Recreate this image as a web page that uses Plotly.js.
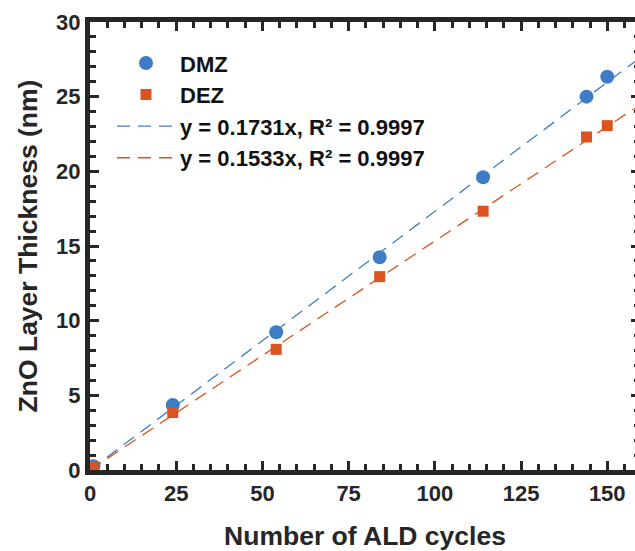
<!DOCTYPE html>
<html>
<head>
<meta charset="utf-8">
<script src="https://cdn.plot.ly/plotly-3.0.1.min.js"></script>
<style>
html,body{margin:0;padding:0;overflow:hidden;background:#fff;}
#chart{width:642px;height:551px;}
</style>
</head>
<body>
<div id="chart"></div>
<script>
var cycles = [1, 24, 54, 84, 114, 144, 150];
var dmz = [0.25, 4.35, 9.22, 14.25, 19.6, 25.0, 26.33];
var dez = [0.2, 3.85, 8.08, 12.95, 17.33, 22.3, 23.06];
var slopeDMZ = 0.1731, slopeDEZ = 0.1533;
var fitX = [0, 159.5];
var names = ['DMZ', 'DEZ', 'y = 0.1731x, R\u00b2 = 0.9997', 'y = 0.1533x, R\u00b2 = 0.9997'];
var blue = '#3E7DC6', orange = '#D9541F', ink = '#262626';

var traces = [
  {x: cycles, y: dmz, name: names[0], mode: 'markers', type: 'scatter',
   marker: {symbol: 'circle', size: 14, color: blue}},
  {x: cycles, y: dez, name: names[1], mode: 'markers', type: 'scatter',
   marker: {symbol: 'square', size: 11, color: orange}},
  {x: fitX, y: fitX.map(function(v){return v*slopeDMZ;}), name: names[2], mode: 'lines', type: 'scatter',
   line: {color: blue, width: 1.3, dash: '13px,8px'}},
  {x: fitX, y: fitX.map(function(v){return v*slopeDEZ;}), name: names[3], mode: 'lines', type: 'scatter',
   line: {color: orange, width: 1.3, dash: '13px,8px'}}
];

var fontFam = 'Arial, "Liberation Sans", sans-serif';
var layout = {
  width: 642, height: 551,
  margin: {l: 90, r: 2, t: 22, b: 81},
  paper_bgcolor: '#fff', plot_bgcolor: '#fff',
  font: {family: fontFam, color: ink, size: 22, weight: 'bold'},
  showlegend: true,
  legend: {x: 0.04, y: 0.955, xanchor: 'left', yanchor: 'top',
           bgcolor: 'rgba(0,0,0,0)', itemwidth: 58, tracegroupgap: 0,
           font: {family: fontFam, size: 22, color: '#111', weight: 'bold'}},
  xaxis: {range: [0, 159.5], dtick: 25, tick0: 0,
          showline: true, linewidth: 5, linecolor: ink, mirror: 'allticks',
          ticks: 'inside', ticklen: 9, tickwidth: 3, tickcolor: ink,
          minor: {dtick: 5, ticks: 'inside', ticklen: 6, tickwidth: 3, tickcolor: ink, showgrid: false},
          showgrid: false, zeroline: false,
          tickfont: {family: fontFam, size: 22, color: ink, weight: 'bold'},
          title: {text: 'Number of ALD cycles', standoff: 24,
                  font: {family: fontFam, size: 26.5, color: ink, weight: 'bold'}}},
  yaxis: {range: [0, 30], dtick: 5, tick0: 0,
          showline: true, linewidth: 5, linecolor: ink, mirror: 'allticks',
          ticks: 'inside', ticklen: 9, tickwidth: 3, tickcolor: ink,
          minor: {dtick: 1, ticks: 'inside', ticklen: 6, tickwidth: 3, tickcolor: ink, showgrid: false},
          showgrid: false, zeroline: false,
          tickfont: {family: fontFam, size: 22, color: ink, weight: 'bold'},
          title: {text: 'ZnO Layer Thickness (nm)', standoff: 12,
                  font: {family: fontFam, size: 26.5, color: ink, weight: 'bold'}}}
};

Plotly.newPlot('chart', traces, layout, {displayModeBar: false, staticPlot: true});
</script>
</body>
</html>
